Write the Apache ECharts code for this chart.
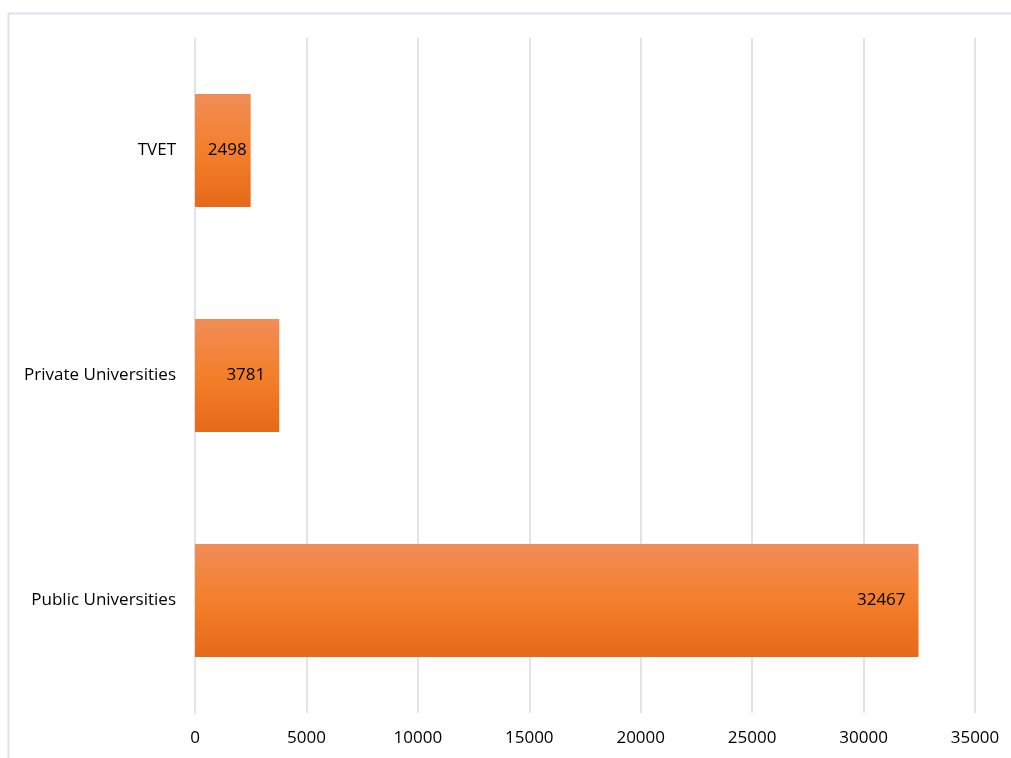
<!DOCTYPE html>
<html>
<head>
<meta charset="utf-8">
<script src="https://cdn.jsdelivr.net/npm/echarts@6/dist/echarts.min.js"></script>
<style>
  html, body { margin: 0; padding: 0; background: #fff; }
  #chart { width: 1011px; height: 758px; }
</style>
</head>
<body>
<div id="chart"></div>
<script>
// Institution types, listed bottom-to-top as they appear on the category axis
const categories = ['Public Universities', 'Private Universities', 'TVET'];
const values = [32467, 3781, 2498];
const xTicks = [0, 5000, 10000, 15000, 20000, 25000, 30000, 35000];

const FONT = '"Open Sans", "Noto Sans", sans-serif';
const FONT_SIZE = 17;

const barGradient = new echarts.graphic.LinearGradient(0, 0, 0, 1, [
  { offset: 0, color: '#F08D58' },
  { offset: 0.5, color: '#F47F2B' },
  { offset: 1, color: '#E56A19' }
]);

// the short bar keeps its label closer to the bar end
const labelDistances = [13, 14, 4];

const chart = echarts.init(document.getElementById('chart'), null, { renderer: 'canvas' });
chart.setOption({
  animation: false,
  backgroundColor: '#ffffff',
  graphic: [{
    type: 'rect',
    silent: true,
    shape: { x: 8.5, y: 13.5, width: 1100, height: 900 },
    style: { fill: 'none', stroke: '#DEE2E8', lineWidth: 2 }
  }],
  grid: { left: 195, right: 36, top: 38, bottom: 45 },
  xAxis: {
    type: 'value',
    min: xTicks[0],
    max: xTicks[xTicks.length - 1],
    interval: xTicks[1] - xTicks[0],
    axisLine: { show: false },
    axisTick: { show: false },
    axisLabel: {
      color: '#000', fontSize: FONT_SIZE, fontFamily: FONT, margin: 17,
      formatter: (v) => String(v)
    },
    splitLine: { show: true, lineStyle: { color: '#E0E4EA', width: 2 } }
  },
  yAxis: {
    type: 'category',
    data: categories,
    axisLine: { show: true, lineStyle: { color: '#E0E4EA', width: 2 } },
    axisTick: { show: false },
    axisLabel: { color: '#000', fontSize: FONT_SIZE, fontFamily: FONT, margin: 19 }
  },
  series: [{
    type: 'bar',
    barWidth: 113,
    data: values.map((v, i) => ({
      value: v,
      label: { distance: labelDistances[i] }
    })),
    itemStyle: { color: barGradient },
    label: {
      show: true,
      position: 'insideRight',
      color: '#000',
      fontSize: FONT_SIZE,
      fontFamily: FONT
    }
  }]
});
</script>
</body>
</html>
